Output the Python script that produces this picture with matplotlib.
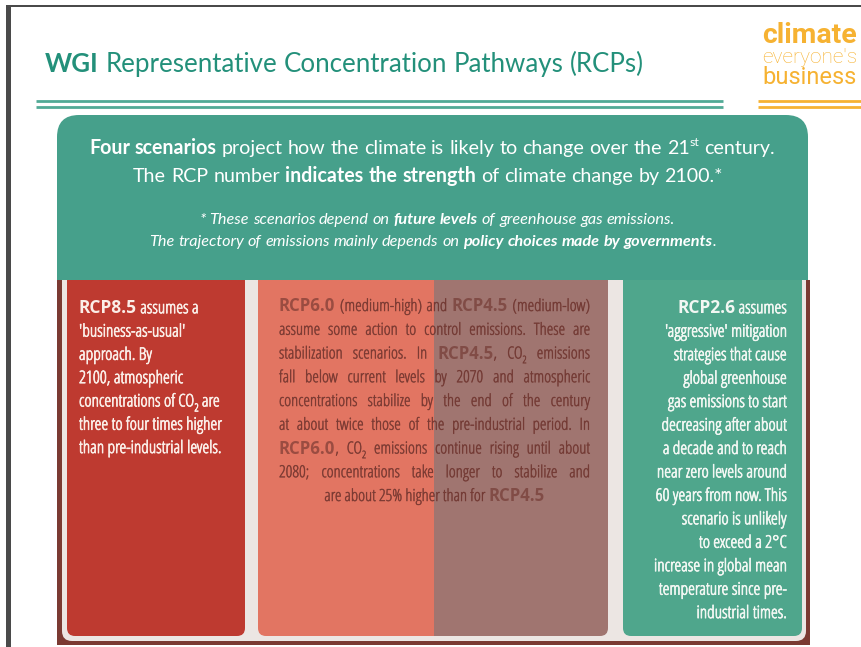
import re
import matplotlib
matplotlib.use('Agg')
import matplotlib.pyplot as plt
import matplotlib.patheffects as pe
from matplotlib.patches import FancyBboxPatch, Rectangle
from matplotlib import font_manager

# ---- slide content ----
title_line = '**WGI** Representative Concentration Pathways (RCPs)'
logo_lines = ['climate', "everyone's", 'business']

header_lines = [
    '**Four scenarios** project how the climate is likely to change over the 21^{st} century.',
    'The RCP number **indicates the strength** of climate change by 2100.*',
]
note_lines = [
    '* These scenarios depend on **future levels** of greenhouse gas emissions.',
    'The trajectory of emissions mainly depends on **policy choices made by governments**.',
]
rcp85_lines = [
    '**RCP8.5** assumes a',
    "'business-as-usual'",
    'approach. By',
    '2100, atmospheric',
    'concentrations of CO_{2} are',
    'three to four times higher',
    'than pre-industrial levels.',
]
mid_lines = [
    '**RCP6.0** (medium-high) and **RCP4.5** (medium-low)',
    'assume some action to control emissions. These are',
    'stabilization scenarios. In **RCP4.5**, CO_{2} emissions',
    'fall below current levels by 2070 and atmospheric',
    'concentrations stabilize by the end of the century',
    'at about twice those of the pre-industrial period. In',
    '**RCP6.0**, CO_{2} emissions continue rising until about',
    '2080; concentrations take longer to stabilize and',
    'are about 25% higher than for **RCP4.5**',
]
rcp26_lines = [
    '**RCP2.6** assumes',
    "'aggressive' mitigation",
    'strategies that cause',
    'global greenhouse',
    'gas emissions to start',
    'decreasing after about',
    'a decade and to reach',
    'near zero levels around',
    '60 years from now. This',
    'scenario is unlikely',
    'to exceed a 2°C',
    'increase in global mean',
    'temperature since pre-',
    'industrial times.',
]

teal_dark = '#23907a'
teal_line = '#52aa96'
teal_box = '#46a08b'
orange = '#f6b232'
brown = '#7b3a32'
panel_colors = ['#be3a30', '#e27562', '#a07570', '#4fa68c']

# ---- fonts ----
# panel text is set in a condensed face: use one if the system has it
entries = font_manager.fontManager.ttflist
names = {f.name for f in entries}
panel_font = None
for fam in ['Noto Sans', 'Open Sans', 'Roboto', 'DejaVu Sans', 'Lato', 'Inter']:
    for st in ['condensed', 'semi-condensed']:
        if any(f.name == fam and f.stretch == st for f in entries):
            panel_font = {'family': fam, 'fontstretch': st}
            break
    if panel_font:
        break
if panel_font is None:
    for fam in ['Liberation Sans Narrow', 'Roboto Condensed', 'Open Sans Condensed']:
        if fam in names:
            panel_font = {'family': fam}
            break
if panel_font is None:
    panel_font = {'family': 'Roboto'}
calibri = {'family': 'Lato'}
logo_font = {'family': 'Roboto'}

fig = plt.figure(figsize=(8.61, 6.47), dpi=100)
ax = fig.add_axes([0, 0, 1, 1])
ax.set_xlim(0, 861)
ax.set_ylim(647, 0)
ax.axis('off')
renderer = fig.canvas.get_renderer()


def measure(s, **kw):
    t = ax.text(0, 0, s, **kw)
    w = t.get_window_extent(renderer).width
    t.remove()
    return w


def parse(line):
    words, bold = [], False
    for w in line.split(' '):
        runs = []
        for part in re.split(r'(\*\*|_\{[^}]*\}|\^\{[^}]*\})', w):
            if part == '**':
                bold = not bold
            elif part.startswith('_{'):
                runs.append((part[2:-1], bold, 'sub'))
            elif part.startswith('^{'):
                runs.append((part[2:-1], bold, 'sup'))
            elif part:
                runs.append((part, bold, ''))
        words.append(runs)
    return words


def layout(line, size, font, italic=False):
    out = []
    for runs in parse(line):
        ws = []
        for txt, bold, kind in runs:
            kw = dict(font, fontsize=size * (0.62 if kind else 1.0),
                      fontweight='bold' if bold else 'normal',
                      fontstyle='italic' if italic else 'normal')
            ws.append((txt, kind, bold, kw, measure(txt, **kw)))
        out.append(ws)
    return out


def space_w(size, font, italic=False):
    kw = dict(font, fontsize=size, fontstyle='italic' if italic else 'normal')
    return measure('x x', **kw) - measure('xx', **kw)


def line_width(line, size, font, italic=False):
    words = layout(line, size, font, italic)
    return (sum(r[4] for ws in words for r in ws)
            + space_w(size, font, italic) * (len(words) - 1))


def fit_size(lines, font, target, italic=False, base=10.0):
    widest = max(line_width(l, base, font, italic) for l in lines)
    return base * target / widest


def draw_line(x, y, line, size, font, color, align='left', width=None,
              italic=False, alpha=1.0, stroke=0.0):
    words = layout(line, size, font, italic)
    total = sum(r[4] for ws in words for r in ws)
    if align == 'justify' and len(words) > 1:
        gap = (width - total) / (len(words) - 1)
        x0 = x
    else:
        gap = space_w(size, font, italic)
        full = total + gap * (len(words) - 1)
        x0 = {'left': x, 'center': x - full / 2, 'right': x - full}[align]
    px = size * 100 / 72
    cx = x0
    for ws in words:
        for txt, kind, bold, kw, w in ws:
            dy = {'': 0, 'sub': 0.28 * px, 'sup': -0.42 * px}[kind]
            t = ax.text(cx, y + dy, txt, ha='left', va='baseline', color=color,
                        alpha=alpha, **kw)
            if stroke and not bold:
                t.set_path_effects([pe.withStroke(linewidth=stroke, foreground=color)])
            cx += w
        cx += gap


def panel(x0, x1, top, bot, color, left=True, right=True, r=8):
    ax.add_patch(FancyBboxPatch((x0, top), x1 - x0, bot - top,
                                boxstyle=f'round,pad=0,rounding_size={r}',
                                fc=color, ec='none'))
    ax.add_patch(Rectangle((x0, top), x1 - x0, 2 * r, fc=color, ec='none'))
    if not left:
        ax.add_patch(Rectangle((x0, top), 2 * r, bot - top, fc=color, ec='none'))
    if not right:
        ax.add_patch(Rectangle((x1 - 2 * r, top), 2 * r, bot - top, fc=color, ec='none'))


# ---- slide frame ----
ax.add_patch(Rectangle((6, 5), 855, 2, fc='#4a4a4a', ec='none'))
ax.add_patch(Rectangle((6, 5), 5, 642, fc='#4a4a4a', ec='none'))

# ---- title + rules ----
s_title = fit_size([title_line], calibri, 600)
draw_line(45, 72, title_line, s_title, calibri, teal_dark)
for yy in (101, 107):
    ax.plot([36, 723], [yy, yy], color=teal_line, lw=2, solid_capstyle='butt')
    ax.plot([758, 861], [yy, yy], color=orange, lw=2, solid_capstyle='butt')

# ---- logo ----
logo_styles = [('bold', 43), ('light', 63), ('normal', 84)]
for text, (wt, yb) in zip(logo_lines, logo_styles):
    base = dict(logo_font, fontweight=wt)
    s = 10 * 95 / measure(text, fontsize=10, **base)
    ax.text(762, yb, text, fontsize=s, color=orange, va='baseline', **base)

# ---- header box ----
ax.add_patch(FancyBboxPatch((57, 115), 751, 210,
                            boxstyle='round,pad=0,rounding_size=22',
                            fc=teal_box, ec='none'))
s_head = fit_size(header_lines[:1], calibri, 687)
draw_line(432, 154, header_lines[0], s_head, calibri, 'white', align='center')
draw_line(428, 182, header_lines[1], s_head, calibri, 'white', align='center')
s_note = fit_size(note_lines[1:], calibri, 568, italic=True)
draw_line(437, 224, note_lines[0], s_note, calibri, 'white', align='center', italic=True)
draw_line(433, 246, note_lines[1], s_note, calibri, 'white', align='center', italic=True)

# ---- panels ----
ax.add_patch(Rectangle((57, 280), 753, 365, fc=brown, ec='none'))
panel(62, 806, 280, 641, '#ece6e3', r=10)
panel(67, 245, 280, 636, panel_colors[0])
panel(258, 434, 280, 636, panel_colors[1], right=False)
panel(434, 608, 280, 636, panel_colors[2], left=False)
panel(623, 802, 280, 636, panel_colors[3])

s_panel = min(fit_size(rcp85_lines, panel_font, 155),
              fit_size(rcp26_lines, panel_font, 142), 12.5)
s_mid = min(s_panel, fit_size(mid_lines, panel_font, 306))
px = s_panel * 100 / 72
for i, line in enumerate(rcp85_lines):
    draw_line(79, 307 + 23.3 * i + 0.36 * px, line, s_panel, panel_font, '#fbeee8',
              stroke=0.5)
for i, line in enumerate(rcp26_lines):
    draw_line(787, 307 + 23.45 * i + 0.36 * px, line, s_panel, panel_font, '#f2f7f3',
              align='right', stroke=0.5)
pm = s_mid * 100 / 72
mid_color = '#6e332d'
for i, line in enumerate(mid_lines):
    y = 305 + 23.75 * i + 0.36 * pm
    if i < len(mid_lines) - 1:
        draw_line(279, y, line, s_mid, panel_font, mid_color, align='justify',
                  width=311, alpha=0.62, stroke=0.4)
    else:
        draw_line(434.5, y, line, s_mid, panel_font, mid_color, align='center',
                  alpha=0.62, stroke=0.4)

fig.savefig('out.png', dpi=100)
